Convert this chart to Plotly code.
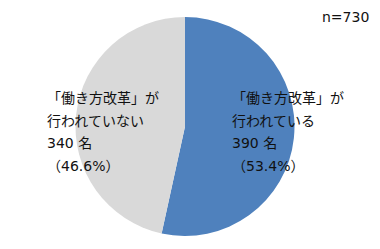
import plotly.graph_objects as go

categories = ["「働き方改革」が行われている", "「働き方改革」が行われていない"]
label_line1 = ["「働き方改革」が", "「働き方改革」が"]
label_line2 = ["行われている", "行われていない"]
counts = [390, 340]
colors = ["#4F81BD", "#D9D9D9"]
total = sum(counts)

W, H = 380, 249
fig = go.Figure(go.Pie(
    labels=categories,
    values=counts,
    sort=False,
    direction="clockwise",
    rotation=0,
    marker=dict(colors=colors, line=dict(width=0)),
    textinfo="none",
    hoverinfo="label+value+percent",
    showlegend=False,
    domain=dict(x=[75 / W, 295 / W], y=[(H - 236) / H, (H - 17) / H]),
))

jp_font = dict(family="Noto Sans CJK JP", size=14, color="#111111")
num_font = dict(family="DejaVu Sans, Noto Sans CJK JP", size=14, color="#111111")
label_x = [230, 45]
line_y = [97, 120, 143, 166]
for i in range(len(counts)):
    pct = counts[i] / total * 100
    lines = [label_line1[i], label_line2[i], f"{counts[i]} 名", f"（{pct:.1f}%）"]
    fonts = [jp_font, jp_font, num_font, num_font]
    for j, t in enumerate(lines):
        fig.add_annotation(
            x=label_x[i] / W, y=1 - line_y[j] / H, xref="paper", yref="paper",
            text=t, showarrow=False, xanchor="left", yanchor="middle",
            font=fonts[j], align="left",
        )

fig.add_annotation(
    x=371 / W, y=1 - 17 / H, xref="paper", yref="paper",
    text=f"n={total}", showarrow=False, xanchor="right", yanchor="middle",
    font=dict(family="DejaVu Sans", size=14, color="#111111"),
)

fig.update_layout(
    width=W, height=H,
    margin=dict(l=0, r=0, t=0, b=0),
    paper_bgcolor="white", plot_bgcolor="white",
)
fig.write_html("out.html")
